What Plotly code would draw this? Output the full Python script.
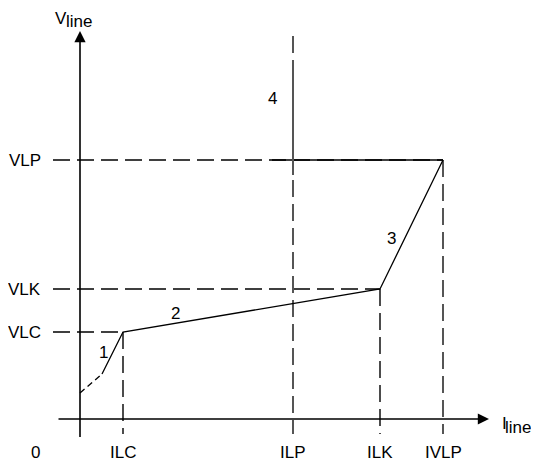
import plotly.graph_objects as go

# Schematic values (arbitrary units, origin at axes crossing)
x_ticks = ["ILC", "ILP", "ILK", "IVLP"]
x_vals = [43, 213, 300, 363]
y_ticks = ["VLP", "VLK", "VLC"]
y_vals = [259, 130, 87]

# characteristic curve
curve_dash_x = [0, 22]
curve_dash_y = [26, 45]
curve_x = [22, 43, 300, 363]
curve_y = [45, 87, 130, 259]

# region 4 solid pieces
reg4_h_x = [192, 363]
reg4_v_y = [244, 344]
ilp_top = 383

region_labels = ["1", "2", "3", "4"]
region_x = [23, 95, 311, 192]
region_y = [67, 106, 181, 321]

BLACK = "#000000"
GRAY = "#555555"
DASH = "17px,7px"
FONT = dict(family="Liberation Sans, Arial, sans-serif", size=17, color=BLACK)

fig = go.Figure()

def line(xs, ys, color=BLACK, dash="solid", width=1.3):
    fig.add_trace(go.Scatter(x=xs, y=ys, mode="lines",
                             line=dict(color=color, dash=dash, width=width),
                             hoverinfo="skip", showlegend=False))

ILC, ILP, ILK, IVLP = x_vals
VLP, VLK, VLC = y_vals
x_left = -27
y_bottom = -15

# horizontal dashed guides
line([x_left, IVLP], [VLP, VLP], BLACK, DASH, 1.4)
line([x_left, ILK], [VLK, VLK], BLACK, DASH, 1.4)
line([x_left, ILC], [VLC, VLC], BLACK, DASH, 1.4)
# vertical dashed guides
line([ILC, ILC], [VLC, y_bottom], BLACK, DASH, 1.4)
line([ILP, ILP], [ilp_top, y_bottom], GRAY, DASH, 2)
line([ILK, ILK], [VLK, y_bottom], BLACK, DASH, 1.4)
line([IVLP, IVLP], [VLP, y_bottom], GRAY, DASH, 2)

# region 4 boundary
line(reg4_h_x, [VLP, VLP], BLACK, "solid", 1.4)
line([ILP, ILP], reg4_v_y, GRAY, "solid", 2)

# curve
line(curve_dash_x, curve_dash_y, BLACK, "6px,4px", 1.3)
line(curve_x, curve_y, BLACK, "solid", 1.3)

annotations = []
# axes with arrows
annotations.append(dict(x=409, y=0, ax=-23, ay=0, xref="x", yref="y", axref="x", ayref="y",
                        showarrow=True, arrowhead=2, arrowsize=1.4, arrowwidth=1.6,
                        arrowcolor=BLACK, text=" ", font=dict(size=1)))
annotations.append(dict(x=0, y=388, ax=0, ay=-20, xref="x", yref="y", axref="x", ayref="y",
                        showarrow=True, arrowhead=2, arrowsize=1.4, arrowwidth=1.6,
                        arrowcolor=BLACK, text=" ", font=dict(size=1)))
# axis titles (main letter + lowered subscript at full size)
annotations.append(dict(x=-19, y=401, xref="x", yref="y", showarrow=False, text="V", font=FONT))
annotations.append(dict(x=-16, y=398, xref="x", yref="y", showarrow=False, xanchor="left",
                        text="line", font=FONT))
annotations.append(dict(x=424, y=-4, xref="x", yref="y", showarrow=False, text="I", font=FONT))
annotations.append(dict(x=423, y=-8, xref="x", yref="y", showarrow=False, xanchor="left",
                        text="line", font=FONT))
# tick labels
annotations.append(dict(x=-45, y=-33, xref="x", yref="y", showarrow=False, text="0", font=FONT))
for t, v in zip(x_ticks, x_vals):
    annotations.append(dict(x=v, y=-33, xref="x", yref="y", showarrow=False, text=t, font=FONT))
for t, v in zip(y_ticks, y_vals):
    annotations.append(dict(x=-37, y=v, xref="x", yref="y", showarrow=False, xanchor="right",
                            text=t, font=FONT))
for t, x, y in zip(region_labels, region_x, region_y):
    annotations.append(dict(x=x, y=y, xref="x", yref="y", showarrow=False, text=t, font=FONT))

# page body has an 8px margin: figure sized/offset to compensate
fig.update_layout(
    width=531, height=456, autosize=False,
    margin=dict(l=0, r=0, t=0, b=0),
    paper_bgcolor="white", plot_bgcolor="white",
    xaxis=dict(range=[-72, 459], visible=False, fixedrange=True),
    yaxis=dict(range=[-45, 411], visible=False, fixedrange=True),
    annotations=annotations,
    showlegend=False,
)

fig.write_html("out.html", config={"displayModeBar": False})
